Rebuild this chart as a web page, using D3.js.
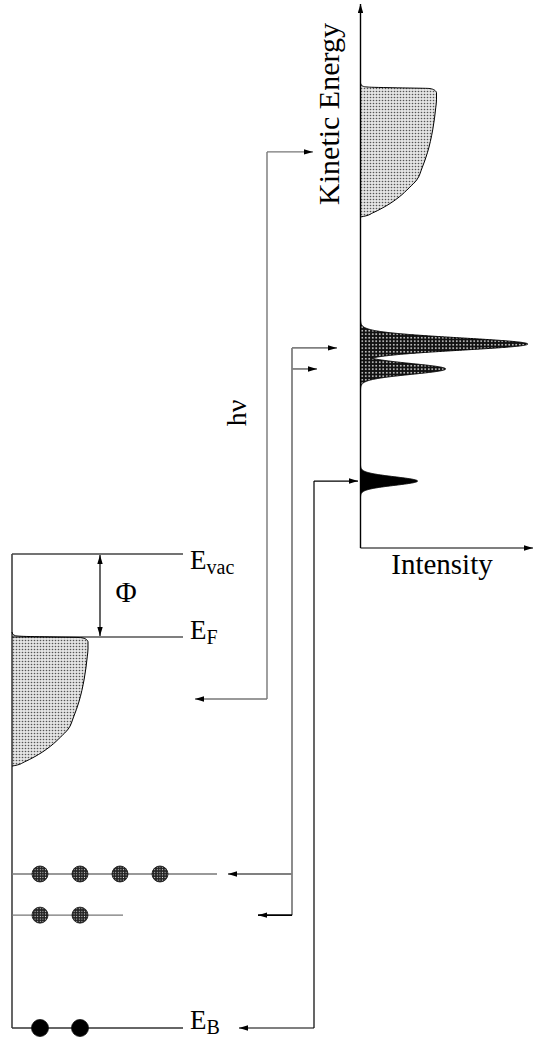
<!DOCTYPE html>
<html><head><meta charset="utf-8">
<script src="https://cdn.jsdelivr.net/npm/d3@7"></script>
<style>html,body{margin:0;padding:0;background:#fff}svg{display:block}</style>
</head><body>
<script>
// ---- Sample energy levels (eV, relative to the vacuum level) ----
const workFunction = 4.5;
const coreLevelEnergies = [-17.35, -19.58, -25.7];
const coreLevelElectrons = [4, 2, 2];

// ---- Valence band below E_F: depth (eV) and relative density of states ----
const vbDepth = [-0.27, -0.16, -0.08, -0.04, 0, 0.03, 0.11, 0.27, 0.65, 1.08, 2.28, 3.52, 4.34, 4.99, 5.42, 5.91, 6.24, 6.51, 6.78, 6.94, 7.0];
const vbIntensity = [0, 0.01, 0.04, 0.12, 0.55, 0.9, 0.97, 1.0, 1.0, 0.99, 0.95, 0.88, 0.81, 0.74, 0.64, 0.51, 0.40, 0.29, 0.16, 0.07, 0];

// ---- Photoemission spectrum (kinetic energy, eV) ----
const fermiEdgeKE = 24.95;
const peakKE = [11.06, 9.71, 3.63];
const peakHeight = [2.2, 1.12, 0.75];
const peakSigma = [0.33, 0.29, 0.23];

// ---- Excitation paths: kinetic energy reached / initial-state energy ----
const photonKE = 21.48, photonInitial = -7.86;
const doubletKE = [10.85, 9.71], doubletInitial = [-17.35, -19.58];
const deepKE = [3.63], deepInitial = [-25.7];

const W = 533, H = 1039;
const serif = '"Liberation Serif","Times New Roman",serif';

const svg = d3.select("body").append("svg").attr("width", W).attr("height", H);
const defs = svg.append("defs");

// stipple fills
const pLight = defs.append("pattern").attr("id", "stippleLight").attr("patternUnits", "userSpaceOnUse").attr("width", 3).attr("height", 3);
pLight.append("rect").attr("width", 3).attr("height", 3).attr("fill", "#e4e4e4");
pLight.append("circle").attr("cx", 1.5).attr("cy", 1.5).attr("r", 0.8).attr("fill", "#555");

const pDark = defs.append("pattern").attr("id", "stippleDark").attr("patternUnits", "userSpaceOnUse").attr("width", 3.5).attr("height", 3.5);
pDark.append("rect").attr("width", 3.5).attr("height", 3.5).attr("fill", "#111");
pDark.append("rect").attr("x", 1).attr("y", 1).attr("width", 1.5).attr("height", 1.4).attr("fill", "#fff");

const pDot = defs.append("pattern").attr("id", "stippleDot").attr("patternUnits", "userSpaceOnUse").attr("width", 2.6).attr("height", 2.6);
pDot.append("rect").attr("width", 2.6).attr("height", 2.6).attr("fill", "#222");
pDot.append("rect").attr("x", 0.8).attr("y", 0.8).attr("width", 1).attr("height", 1).attr("fill", "#ddd");

function marker(id, color) {
  defs.append("marker").attr("id", id).attr("viewBox", "0 0 10 6")
    .attr("refX", 10).attr("refY", 3).attr("markerUnits", "userSpaceOnUse")
    .attr("markerWidth", 9).attr("markerHeight", 5.5).attr("orient", "auto-start-reverse")
    .append("path").attr("d", "M0,0L10,3L0,6Z").attr("fill", color);
}
marker("arrow", "#000");

// ---- Scales ----
const keScale = d3.scaleLinear().domain([0, 29.5]).range([548, 4]);        // spectrum kinetic energy
const eScale = d3.scaleLinear().domain([0, -25.7]).range([554, 1028]);     // sample energies
const iScale = d3.scaleLinear().domain([0, 1]).range([0, 76]);             // intensity / DOS width

const specX = 360.5, sampleX = 12;

const vbData = vbDepth.map((d, i) => ({ d, v: vbIntensity[i] }));

function drawBand(x0, yOfDepth) {
  const area = d3.area().curve(d3.curveMonotoneY)
    .y(p => yOfDepth(p.d)).x0(x0).x1(p => x0 + iScale(p.v));
  const line = d3.line().curve(d3.curveMonotoneY)
    .y(p => yOfDepth(p.d)).x(p => x0 + iScale(p.v));
  svg.append("path").attr("d", area(vbData)).attr("fill", "url(#stippleLight)");
  svg.append("path").attr("d", line(vbData)).attr("fill", "none").attr("stroke", "#000").attr("stroke-width", 1);
}

// ---- Spectrum side ----
drawBand(specX, d => keScale(fermiEdgeKE - d));

const gauss = (e, k) => peakHeight[k] * Math.exp(-((e - peakKE[k]) ** 2) / (2 * peakSigma[k] ** 2));
function drawPeaks(ids, fill) {
  const lo = d3.min(ids, k => peakKE[k] - 4.2 * peakSigma[k]);
  const hi = d3.max(ids, k => peakKE[k] + 4.2 * peakSigma[k]);
  const pts = d3.range(lo, hi + 0.005, 0.005).map(e => ({ e, v: d3.max(ids, k => gauss(e, k)) }));
  const area = d3.area().y(p => keScale(p.e)).x0(specX).x1(p => specX + iScale(p.v));
  svg.append("path").attr("d", area(pts)).attr("fill", fill);
  const line = d3.line().y(p => keScale(p.e)).x(p => specX + iScale(p.v));
  svg.append("path").attr("d", line(pts)).attr("fill", "none").attr("stroke", "#000").attr("stroke-width", 1);
}
drawPeaks([0, 1], "url(#stippleDark)");
drawPeaks([2], "#000");

// axes of the spectrum
svg.append("line").attr("x1", specX).attr("x2", specX).attr("y1", keScale(0)).attr("y2", keScale(29.5))
  .attr("stroke", "#000").attr("stroke-width", 1.4).attr("marker-end", "url(#arrow)");

const intScale = d3.scaleLinear().domain([0, 2.27]).range([specX, 533]);
svg.append("line").attr("x1", intScale(0)).attr("x2", intScale(2.27)).attr("y1", keScale(0)).attr("y2", keScale(0))
  .attr("stroke", "#000").attr("stroke-width", 1.2).attr("marker-end", "url(#arrow)");

svg.append("text").attr("transform", `translate(339,114) rotate(-90)`).attr("text-anchor", "middle")
  .attr("font-family", serif).attr("font-size", 30).text("Kinetic Energy");
svg.append("text").attr("x", 442).attr("y", 574).attr("text-anchor", "middle")
  .attr("font-family", serif).attr("font-size", 29).text("Intensity");

// ---- Sample side ----
const eVac = 0, eF = -workFunction;
drawBand(sampleX, d => eScale(eF) + (eScale(eF - d) - eScale(eF)));

svg.append("line").attr("x1", sampleX).attr("x2", sampleX).attr("y1", eScale(eVac)).attr("y2", eScale(-25.7))
  .attr("stroke", "#000").attr("stroke-width", 1.2);
svg.append("line").attr("x1", sampleX).attr("x2", 183).attr("y1", eScale(eVac)).attr("y2", eScale(eVac))
  .attr("stroke", "#444").attr("stroke-width", 1.3);
svg.append("line").attr("x1", sampleX).attr("x2", 183).attr("y1", eScale(eF)).attr("y2", eScale(eF))
  .attr("stroke", "#000").attr("stroke-width", 1.2);

// work function
svg.append("line").attr("x1", 100).attr("x2", 100).attr("y1", eScale(eVac) + 1).attr("y2", eScale(eF) - 1)
  .attr("stroke", "#000").attr("stroke-width", 1.2)
  .attr("marker-start", "url(#arrow)").attr("marker-end", "url(#arrow)");
svg.append("text").attr("x", 126).attr("y", 602).attr("text-anchor", "middle")
  .attr("font-family", serif).attr("font-size", 29).text("Φ");

function levelLabel(y, sub) {
  const t = svg.append("text").attr("x", 190).attr("y", y).attr("font-family", serif).attr("font-size", 27);
  t.append("tspan").text("E");
  t.append("tspan").attr("dy", 5).attr("font-size", 20).text(sub);
}
levelLabel(eScale(eVac) + 15, "vac");
levelLabel(eScale(eF) + 2, "F");
levelLabel(eScale(coreLevelEnergies[2]) + 1, "B");

// core levels with their electrons
const levelEnds = [217, 123, 183];
coreLevelEnergies.forEach((e, i) => {
  const y = eScale(e);
  svg.append("line").attr("x1", sampleX).attr("x2", levelEnds[i]).attr("y1", y).attr("y2", y)
    .attr("stroke", i === 2 ? "#333" : "#777").attr("stroke-width", 1.4);
  const deep = i === coreLevelEnergies.length - 1;
  svg.selectAll(null).data(d3.range(coreLevelElectrons[i])).join("circle")
    .attr("cx", k => 40 + k * 40).attr("cy", y).attr("r", deep ? 8.5 : 8)
    .attr("fill", deep ? "#000" : "url(#stippleDot)")
    .attr("stroke", "#111").attr("stroke-width", 0.8);
});

// ---- Excitation paths ----
function path(x, keList, eList, tipsTop, tipsBottom, color, width) {
  const yTop = keScale(d3.max(keList)), yBot = eScale(d3.min(eList));
  svg.append("line").attr("x1", x).attr("x2", x).attr("y1", yTop).attr("y2", yBot)
    .attr("stroke", color).attr("stroke-width", width);
  keList.forEach((k, i) => svg.append("line").attr("x1", x).attr("x2", tipsTop[i])
    .attr("y1", keScale(k)).attr("y2", keScale(k)).attr("stroke", color).attr("stroke-width", width)
    .attr("marker-end", "url(#arrow)"));
  eList.forEach((e, i) => svg.append("line").attr("x1", x).attr("x2", tipsBottom[i])
    .attr("y1", eScale(e)).attr("y2", eScale(e)).attr("stroke", i === eList.length - 1 && eList.length > 1 ? "#000" : color)
    .attr("stroke-width", width).attr("marker-end", "url(#arrow)"));
}
path(267, [photonKE], [photonInitial], [313], [195], "#777", 1.4);
path(292, doubletKE, doubletInitial, [337, 317], [228, 258], "#808080", 1.8);
path(314, deepKE, deepInitial, [358], [239], "#000", 1.2);

svg.append("text").attr("transform", "translate(246,413) rotate(-90)").attr("text-anchor", "middle")
  .attr("font-family", serif).attr("font-size", 28).text("hν");
</script>
</body></html>
